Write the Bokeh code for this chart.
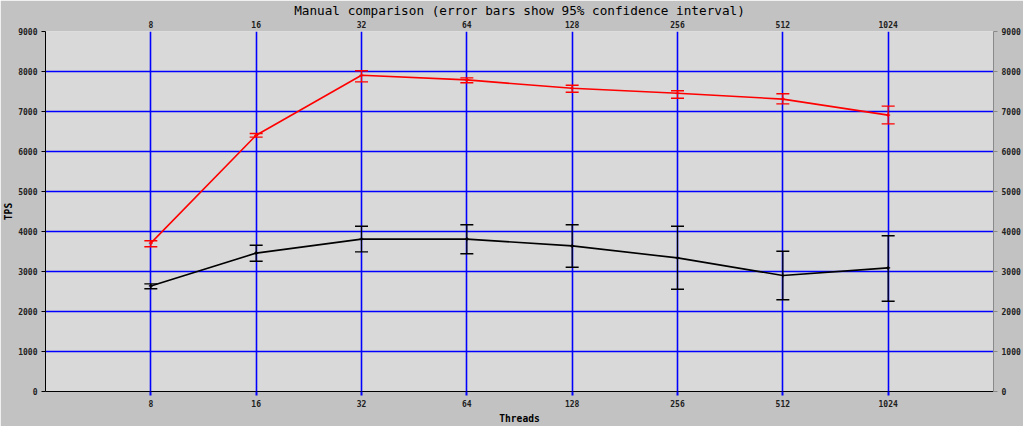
from bokeh.plotting import figure
from bokeh.models import (LogAxis, LinearAxis, FixedTicker, Range1d, Whisker,
                          ColumnDataSource, TeeHead, LogScale, Grid)
from bokeh.embed import file_html
from bokeh.resources import INLINE

threads = [8, 16, 32, 64, 128, 256, 512, 1024]
thread_labels = ["8", "16", "32", "64", "128", "256", "512", "1024"]

red_mean = [3710, 6405, 7905, 7790, 7580, 7455, 7310, 6910]
red_low = [3620, 6360, 7740, 7720, 7480, 7330, 7190, 6690]
red_high = [3770, 6450, 8020, 7840, 7655, 7520, 7445, 7135]

black_mean = [2640, 3460, 3810, 3810, 3640, 3340, 2900, 3090]
black_low = [2570, 3255, 3490, 3445, 3105, 2555, 2295, 2255]
black_high = [2690, 3655, 4130, 4170, 4170, 4130, 3505, 3895]

y_ticks = [0, 1000, 2000, 3000, 4000, 5000, 6000, 7000, 8000, 9000]

MONO = "DejaVu Sans Mono"

p = figure(frame_width=948, frame_height=360, x_axis_type=None, y_axis_type=None,
           x_range=Range1d(4, 2048), y_range=Range1d(0, 9000),
           output_backend="svg", toolbar_location=None,
           min_border_left=0, min_border_right=0, min_border_top=0, min_border_bottom=0)
p.x_scale = LogScale()

p.background_fill_color = "#d9d9d9"
p.border_fill_color = "#c2c2c2"
p.outline_line_color = None

p.title.text = "Manual comparison (error bars show 95% confidence interval)"
p.title.align = "center"
p.title.text_font = MONO
p.title.text_font_size = "12.7px"
p.title.text_font_style = "normal"
p.title.text_color = "#000000"
p.title.standoff = 0
p.title.offset = 0

label_overrides = {t: l for t, l in zip(threads, thread_labels)}

def style_x(ax, below):
    ax.ticker = FixedTicker(ticks=threads)
    ax.major_label_overrides = label_overrides
    ax.major_label_text_font = MONO
    ax.major_label_text_font_size = "8px"
    ax.major_label_text_font_style = "bold"
    ax.major_label_text_color = "#202020"
    ax.minor_tick_line_color = None
    ax.major_tick_in = 0
    if below:
        ax.axis_line_color = "black"
        ax.major_tick_line_color = "blue"
        ax.major_tick_line_width = 2
        ax.major_tick_out = 4
        ax.major_label_standoff = 4
    else:
        ax.axis_line_color = None
        ax.major_tick_line_color = None
        ax.major_tick_out = 0
        ax.major_label_standoff = 4

def style_y(ax, left):
    ax.ticker = FixedTicker(ticks=y_ticks)
    ax.major_label_text_font = MONO
    ax.major_label_text_font_size = "8px"
    ax.major_label_text_font_style = "bold"
    ax.major_label_text_color = "#202020"
    ax.minor_tick_line_color = None
    ax.major_tick_in = 0
    ax.major_tick_out = 4
    ax.major_label_standoff = 4
    if left:
        ax.axis_line_color = "black"
        ax.major_tick_line_color = "black"
    else:
        ax.axis_line_color = "#8a8a8a"
        ax.major_tick_line_color = "#8a8a8a"

xb = LogAxis(axis_label="Threads")
style_x(xb, True)
xb.axis_label_text_font = MONO
xb.axis_label_text_font_size = "9.6px"
xb.axis_label_text_font_style = "bold"
xb.axis_label_text_color = "#000000"
xb.axis_label_standoff = 3
p.add_layout(xb, "below")

xt = LogAxis()
style_x(xt, False)
p.add_layout(xt, "above")

yl = LinearAxis(axis_label="TPS")
style_y(yl, True)
yl.axis_label_text_font = MONO
yl.axis_label_text_font_size = "9.6px"
yl.axis_label_text_font_style = "bold"
yl.axis_label_text_color = "#000000"
yl.axis_label_standoff = 1
p.add_layout(yl, "left")

yr = LinearAxis()
style_y(yr, False)
p.add_layout(yr, "right")

xg = Grid(dimension=0, ticker=FixedTicker(ticks=threads))
xg.grid_line_color = "#0000ff"
xg.grid_line_width = 1.6
yg = Grid(dimension=1, ticker=FixedTicker(ticks=y_ticks))
yg.grid_line_color = "#0000ff"
yg.grid_line_width = 1.3
yg.grid_line_alpha = 1.0
p.add_layout(yg)
p.add_layout(xg)

def series(mean, low, high, color):
    src = ColumnDataSource(dict(x=threads, y=mean, lo=low, hi=high))
    p.line("x", "y", source=src, line_color=color, line_width=1.6)
    p.scatter("x", "y", source=src, marker="cross", size=4, line_color=color, line_width=1.2)
    w = Whisker(source=src, base="x", lower="lo", upper="hi", dimension="height",
                line_color=color, line_width=1.2,
                upper_head=TeeHead(size=13, line_color=color, line_width=1.4),
                lower_head=TeeHead(size=13, line_color=color, line_width=1.4))
    p.add_layout(w)

series(black_mean, black_low, black_high, "#000000")
series(red_mean, red_low, red_high, "#ff0000")

open("out.html", "w").write(file_html(p, INLINE))
